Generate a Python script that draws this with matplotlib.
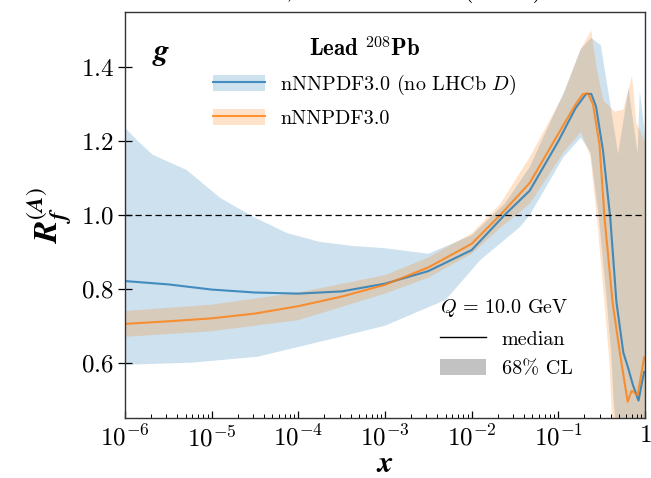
import numpy as np
import matplotlib
matplotlib.use("Agg")
import matplotlib.pyplot as plt
from matplotlib.lines import Line2D
from matplotlib.patches import Patch
from matplotlib.ticker import FixedLocator, FuncFormatter, LogLocator, NullFormatter

plt.rcParams.update({
    "font.family": "serif",
    "font.serif": ["cmr10"],
    "mathtext.fontset": "cm",
    "axes.formatter.use_mathtext": True,
})

# ---- gluon nuclear modification R_f^(A) for lead, Q = 10 GeV ----
# medians, given at log10(x)
noD_logx = [-6, -5.5, -5, -4.5, -4, -3.5, -3, -2.5, -2, -1.62, -1.33, -1, -0.8,
            -0.68, -0.62, -0.565, -0.485, -0.40, -0.33, -0.25, -0.2, -0.14,
            -0.075, -0.04, -0.01]
noD_median = [0.821, 0.812, 0.798, 0.790, 0.787, 0.793, 0.814, 0.848, 0.905,
              1.0, 1.066, 1.20, 1.29, 1.328, 1.328, 1.294, 1.175, 0.99, 0.765,
              0.627, 0.59, 0.54, 0.497, 0.54, 0.575]

nom_logx = [-6, -5.5, -5, -4.5, -4, -3.5, -3, -2.5, -2, -1.67, -1.33, -1, -0.8,
            -0.72, -0.66, -0.6, -0.525, -0.466, -0.375, -0.29, -0.2, -0.154,
            -0.085, -0.01]
nom_median = [0.705, 0.712, 0.720, 0.733, 0.753, 0.779, 0.811, 0.858, 0.922,
              1.0, 1.087, 1.22, 1.30, 1.327, 1.33, 1.30, 1.19, 0.99, 0.765,
              0.627, 0.494, 0.524, 0.512, 0.614]

# 68% CL band edges
noD_up_logx = [-6, -5.85, -5.68, -5.29, -4.9, -4.52, -4.13, -3.75, -3.37, -3,
               -2.5, -2, -1.62, -1.33, -0.94, -0.74, -0.62, -0.51, -0.4, -0.31,
               -0.19, -0.085, -0.06, 0]
noD_up = [1.236, 1.20, 1.163, 1.122, 1.046, 0.995, 0.951, 0.927, 0.916, 0.91,
          0.895, 0.945, 1.03, 1.13, 1.33, 1.45, 1.48, 1.46, 1.30, 1.165, 1.344,
          1.165, 1.336, 1.217]
noD_lo_logx = [-6, -5.23, -4.47, -3.69, -3, -2.3, -1.9, -1.44, -1.33, -0.94,
               -0.74, -0.63, -0.535, -0.44, -0.39, -0.36, -0.3, 0]
noD_lo = [0.594, 0.60, 0.616, 0.66, 0.70, 0.77, 0.878, 0.968, 1.0, 1.157, 1.21,
          1.17, 1.0, 0.765, 0.627, 0.49, 0.35, 0.35]

nom_up_logx = [-6, -5, -4, -3, -2.5, -2, -1.67, -1.33, -0.94, -0.74, -0.62,
               -0.56, -0.48, -0.35, -0.25, -0.15, -0.1, 0]
nom_up = [0.74, 0.757, 0.79, 0.837, 0.885, 0.95, 1.03, 1.157, 1.326, 1.45,
          1.50, 1.40, 1.31, 1.28, 1.285, 1.377, 1.25, 1.2]
nom_lo_logx = [-6, -5, -4, -3, -2.5, -2, -1.67, -1.33, -0.94, -0.74, -0.63,
               -0.55, -0.46, -0.41, -0.38, -0.3, 0]
nom_lo = [0.67, 0.685, 0.715, 0.787, 0.83, 0.895, 0.965, 1.03, 1.17, 1.225,
          1.16, 0.98, 0.74, 0.6, 0.45, 0.35, 0.35]

x_ticks = [1e-6, 1e-5, 1e-4, 1e-3, 1e-2, 1e-1, 1]
y_ticks = [0.6, 0.8, 1.0, 1.2, 1.4]

label_noD = r"nNNPDF3.0 (no LHCb $D$)"
label_nom = "nNNPDF3.0"

c_blue = "#1f77b4"
c_orange = "#ff7f0e"
band_alpha = 0.22


def band_polygon(up_logx, up, lo_logx, lo):
    xs = np.concatenate([10.0 ** np.array(up_logx), 10.0 ** np.array(lo_logx)[::-1]])
    ys = np.concatenate([np.array(up), np.array(lo)[::-1]])
    return xs, ys


fig = plt.figure(figsize=(6.51, 4.78), dpi=100)
ax = fig.add_axes([125 / 651, 1 - 418 / 478, 520 / 651, 406 / 478])

bx, by = band_polygon(noD_up_logx, noD_up, noD_lo_logx, noD_lo)
ax.fill(bx, by, color=c_blue, alpha=band_alpha, lw=0)
ox, oy = band_polygon(nom_up_logx, nom_up, nom_lo_logx, nom_lo)
ax.fill(ox, oy, color=c_orange, alpha=band_alpha, lw=0)

ax.plot(10.0 ** np.array(noD_logx), noD_median, color=c_blue, lw=1.5, alpha=0.8)
ax.plot(10.0 ** np.array(nom_logx), nom_median, color=c_orange, lw=1.5, alpha=0.8)

ax.axhline(1.0, color="black", lw=0.9, ls=(0, (5, 3)))

ax.set_xscale("log")
ax.set_xlim(1e-6, 1)
ax.set_ylim(0.45, 1.55)

ax.xaxis.set_major_locator(FixedLocator(x_ticks))
ax.xaxis.set_major_formatter(FuncFormatter(
    lambda v, p: "$1$" if v == 1 else r"$10^{%d}$" % round(np.log10(v))))
ax.xaxis.set_minor_locator(LogLocator(base=10, subs=np.arange(2, 10), numticks=20))
ax.xaxis.set_minor_formatter(NullFormatter())
ax.yaxis.set_major_locator(FixedLocator(y_ticks))
ax.yaxis.set_major_formatter(FuncFormatter(lambda v, p: "$%.1f$" % v))

ax.tick_params(axis="x", which="major", direction="in", length=5, width=0.9,
               labelsize=18, pad=5)
ax.tick_params(axis="x", which="minor", direction="in", length=3, width=0.7)
ax.tick_params(axis="y", which="major", direction="inout", length=10, width=0.9,
               labelsize=18, pad=3)
for s in ax.spines.values():
    s.set_color("#333333")
    s.set_linewidth(1.0)

ax.set_xlabel(r"$\mathbfit{x}$", fontsize=22, math_fontfamily="stix", labelpad=0)
ax.set_ylabel(r"$\mathbfit{R}_{\mathbfit{f}}^{(\mathbfit{A})}$", fontsize=24,
              math_fontfamily="stix", labelpad=4)

ax.text(0.052, 0.895, r"$\mathbfit{g}$", transform=ax.transAxes, fontsize=22,
        math_fontfamily="stix", ha="left", va="center")

# series legend
h_noD = (Patch(facecolor=c_blue, alpha=band_alpha, lw=0),
         Line2D([], [], color=c_blue, lw=1.5, alpha=0.8))
h_nom = (Patch(facecolor=c_orange, alpha=band_alpha, lw=0),
         Line2D([], [], color=c_orange, lw=1.5, alpha=0.8))
leg1 = ax.legend([h_noD, h_nom], [label_noD, label_nom],
                 title=r"$\mathbf{Lead}\ ^{208}\mathbf{Pb}$",
                 loc="upper left", bbox_to_anchor=(0.169, 0.94),
                 frameon=False, fontsize=14.5, title_fontsize=16.5,
                 borderpad=0, borderaxespad=0, handlelength=2.6,
                 handleheight=0.85, handletextpad=0.75, labelspacing=0.6)
ax.add_artist(leg1)

# scale / style legend
h_med = Line2D([], [], color="black", lw=1.0)
h_cl = Patch(facecolor="#c2c2c2", lw=0)
leg2 = ax.legend([h_med, h_cl], ["median", "68% CL"],
                 title=r"$Q\,=\,10.0$ GeV", alignment="left",
                 loc="upper left", bbox_to_anchor=(0.606, 0.297),
                 frameon=False, fontsize=14.5, title_fontsize=14.5,
                 borderpad=0, borderaxespad=0, handlelength=2.3,
                 handleheight=0.85, handletextpad=0.75, labelspacing=0.52)

fig.text(543 / 651, 1 + 4 / 478, "Nuclear ratio, nNNPDF3.0 (Lead)", fontsize=20,
         ha="right", va="baseline")

fig.savefig("out.png", dpi=100)
